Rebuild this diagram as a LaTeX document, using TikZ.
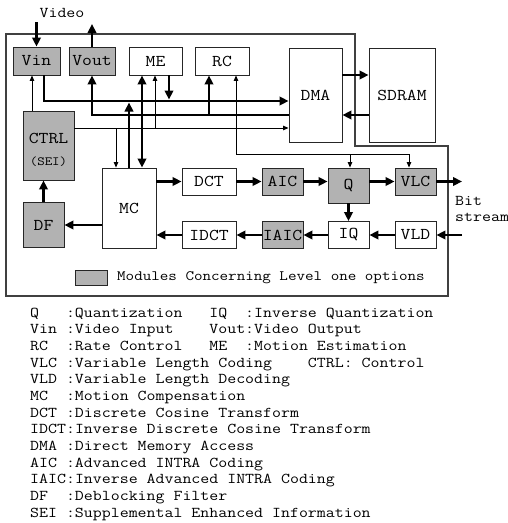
\documentclass[tikz,border=0pt]{standalone}
\usepackage{fontspec}
\setmonofont[FakeStretch=1.16]{Latin Modern Mono}
\usetikzlibrary{arrows.meta}
\begin{document}
\begin{tikzpicture}[x=1pt,y=-1pt,
  box/.style={draw=black!85, line width=0.9pt, inner sep=0pt, fill=white,
    font=\ttfamily\fontsize{16.5}{18}\selectfont},
  shaded/.style={box, fill=black!30},
  txt/.style={inner sep=0pt, font=\ttfamily\frenchspacing\fontsize{15}{16}\selectfont},
  bus/.style={line width=2.8pt, -{Triangle[length=9pt,width=8.5pt]}},
  busboth/.style={line width=2.8pt, {Triangle[length=9pt,width=8.5pt]}-{Triangle[length=9pt,width=8.5pt]}},
  thinarrow/.style={line width=0.8pt, -{Triangle[length=5.5pt,width=4.5pt]}},
  thinboth/.style={line width=0.8pt, {Triangle[length=5.5pt,width=4.5pt]}-{Triangle[length=5.5pt,width=4.5pt]}},
  outline/.style={draw=black!75, line width=1.1pt}
]
\useasboundingbox (0,0) rectangle (508,523);
% outer frame
\draw[outline] (6,34) -- (355,34) -- (355,146) -- (448,146) -- (448,296) -- (6,296) -- cycle;

% boxes
\node[shaded, minimum width=47pt, minimum height=28pt] (vin) at (36.5,61) {Vin};
\node[shaded, minimum width=46pt, minimum height=28pt] (vout) at (92,61) {Vout};
\node[box, minimum width=53pt, minimum height=28pt] (me) at (155.5,61) {ME};
\node[box, minimum width=54pt, minimum height=28pt] (rc) at (222,61) {RC};
\node[box, minimum width=53pt, minimum height=94pt] (dma) at (315.5,95) {DMA};
\node[box, minimum width=66pt, minimum height=94pt] (sdram) at (402,95) {SDRAM};
\node[shaded, minimum width=51pt, minimum height=69pt] (ctrl) at (48.5,145.5) {};
\node[inner sep=0pt, font=\ttfamily\fontsize{16.5}{18}\selectfont] (ctrlt) at (48.5,138) {CTRL};
\node[inner sep=0pt, font=\ttfamily\fontsize{12.5}{14}\selectfont] (sei) at (48.5,162) {(SEI)};
\node[box, minimum width=54pt, minimum height=80pt] (mc) at (129,208) {MC};
\node[box, minimum width=54pt, minimum height=27pt] (dct) at (209,181.5) {DCT};
\node[shaded, minimum width=41pt, minimum height=27pt] (aic) at (282.5,181.5) {AIC};
\node[shaded, minimum width=41pt, minimum height=35pt] (q) at (348.5,185.5) {Q};
\node[shaded, minimum width=41pt, minimum height=27pt] (vlc) at (415.5,181.5) {VLC};
\node[box, minimum width=54pt, minimum height=27pt] (idct) at (209,235) {IDCT};
\node[shaded, minimum width=41pt, minimum height=27pt] (iaic) at (282.5,235) {IAIC};
\node[box, minimum width=41pt, minimum height=27pt] (iq) at (348.5,235) {IQ};
\node[box, minimum width=41pt, minimum height=27pt] (vld) at (415.5,235) {VLD};
\node[shaded, minimum width=41pt, minimum height=45pt] (df) at (43.5,225) {DF};

% texts
\node[txt] (video) at (62,13) {Video};
\node[txt, anchor=north west, align=left] (bits) at (455,196) {Bit\\stream};
\node[shaded, minimum width=32pt, minimum height=15pt] (leg) at (91,277.5) {};
\node[txt, anchor=west, font=\ttfamily\fontsize{14.3}{16}\selectfont] (legt) at (117,277.5) {Modules Concerning Level one options};

% coordinates
\coordinate (vidtop) at (36.5,22);
\coordinate (voutend) at (92,24);
\coordinate (a1) at (44,101);
\coordinate (mex) at (169,99.5);
\coordinate (b1) at (92,115);
\coordinate (b2) at (209,115);
\coordinate (c1) at (0,128);
\coordinate (c2) at (155,128);
\coordinate (c3) at (116,128);
\coordinate (mcup) at (129,102.5);
\coordinate (dx) at (142,0);
\coordinate (r1) at (236,154);
\coordinate (r2) at (409,154);
\coordinate (r3) at (350,154);
\coordinate (d1) at (0,75);
\coordinate (d2) at (0,115);
\coordinate (bout) at (462,181.5);
\coordinate (bin) at (462,235);
\coordinate (cv) at (32,0);

% top connections
\draw[bus] (vidtop) -- (vin.north);
\draw[bus] (vout.north) -- (voutend);
\draw[bus] (vin.south -| a1) |- (dma.west |- a1);
\draw[bus] (me.south -| mex) -- (mex);
\draw[bus] (dma.west |- b1) -| (vout.south);
\draw[bus] (b2) -- (rc.south -| b2);
\draw[thinarrow] (ctrl.east |- c1) -- (dma.west |- c1);
\draw[thinarrow] (c2) -- (me.south -| c2);
\draw[thinarrow] (c3) -- (mc.north -| c3);
\draw[bus] (mc.north) -- (mcup);
\draw[busboth] (me.south -| dx) -- (mc.north -| dx);
\draw[thinboth] (rc.south -| r1) |- (r2) -- (vlc.north -| r2);
\draw[thinarrow] (r3) -- (q.north -| r3);
\draw[bus] (dma.east |- d1) -- (sdram.west |- d1);
\draw[bus] (sdram.west |- d2) -- (dma.east |- d2);

% row 1
\draw[bus] (mc.east |- dct.west) -- (dct.west);
\draw[bus] (dct.east) -- (aic.west);
\draw[bus] (aic.east) -- (aic.east -| q.west);
\draw[bus] (vlc.west -| q.east) -- (vlc.west);
\draw[bus] (vlc.east) -- (bout);
% row 2
\draw[bus] (bin) -- (vld.east);
\draw[bus] (vld.west) -- (iq.east);
\draw[bus] (iq.west) -- (iaic.east);
\draw[bus] (iaic.west) -- (idct.east);
\draw[bus] (idct.west) -- (idct.west -| mc.east);
\draw[bus] (q.south) -- (iq.north);
\draw[bus] (mc.west |- df.east) -- (df.east);
\draw[bus] (df.north) -- (df.north |- ctrl.south);
\draw[thinarrow] (ctrl.north -| cv) -- (vin.south -| cv);

% glossary
\foreach \t [count=\i] in {
 Q~~~:Quantization~~~IQ~~:Inverse~Quantization,
 Vin~:Video~Input~~~~Vout:Video~Output,
 RC~~:Rate~Control~~~ME~~:Motion~Estimation,
 VLC~:Variable~Length~Coding~~~~CTRL:~Control,
 VLD~:Variable~Length~Decoding,
 MC~~:Motion~Compensation,
 DCT~:Discrete~Cosine~Transform,
 IDCT:Inverse~Discrete~Cosine~Transform,
 DMA~:Direct~Memory~Access,
 AIC~:Advanced~INTRA~Coding,
 IAIC:Inverse~Advanced~INTRA~Coding,
 DF~~:Deblocking~Filter,
 SEI~:Supplemental~Enhanced~Information}
 \node[txt, anchor=base west] (l\i) at (30,{317+16.67*(\i-1)}) {\t};
\end{tikzpicture}
\end{document}
